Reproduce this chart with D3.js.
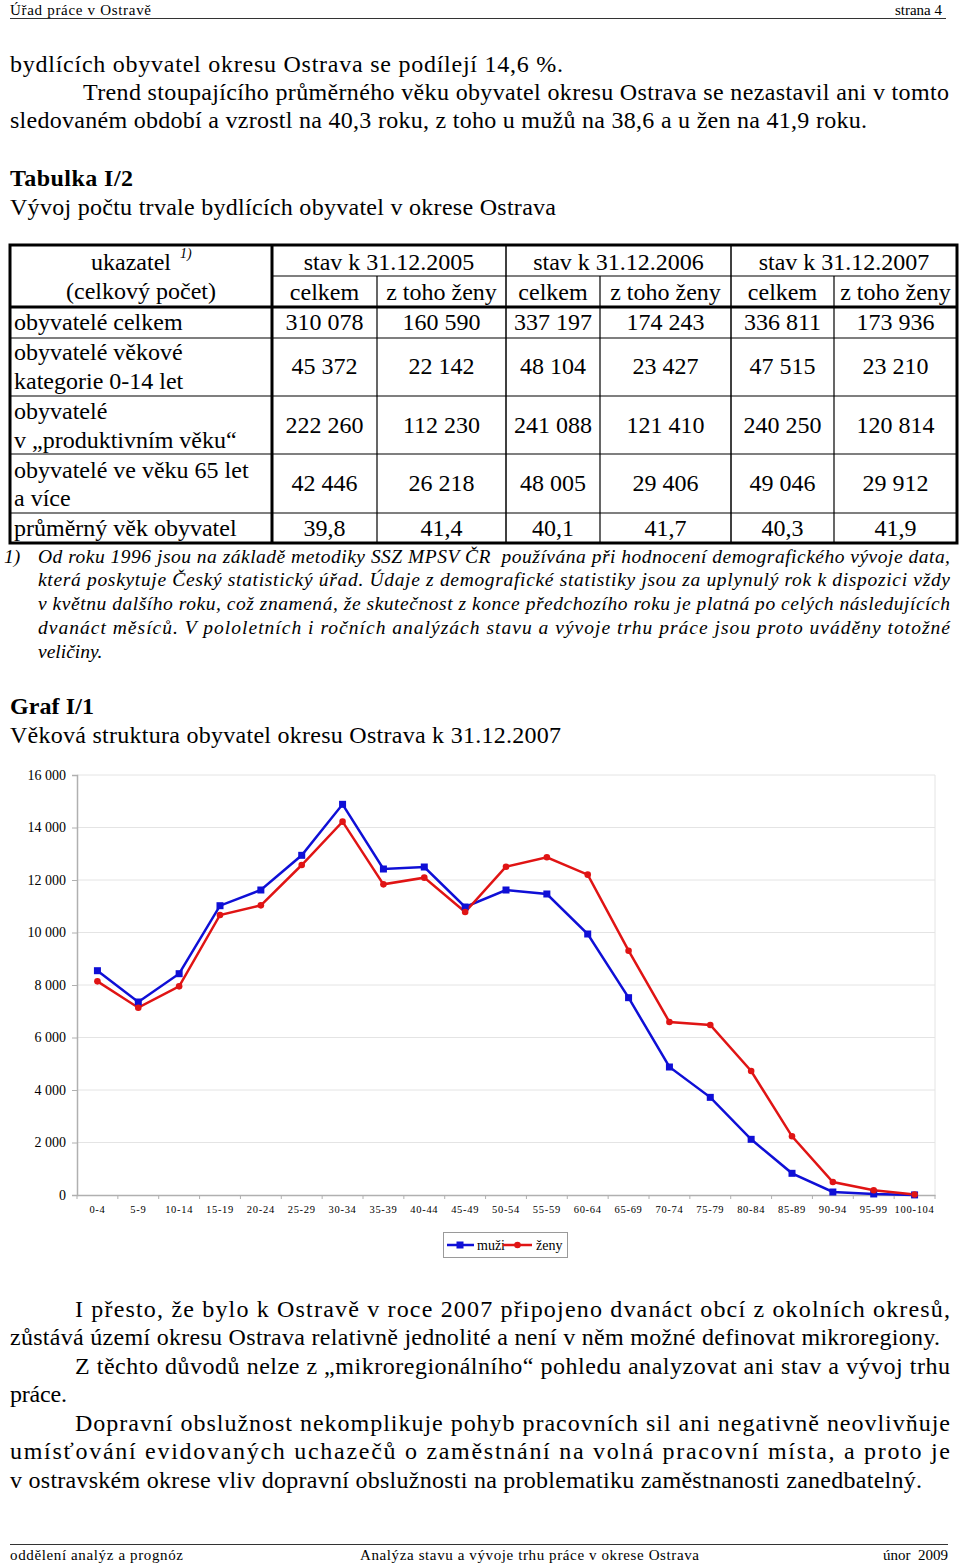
<!DOCTYPE html>
<html><head><meta charset="utf-8">
<script src="https://cdn.jsdelivr.net/npm/d3@7"></script>
<style>
html,body{margin:0;padding:0;background:#fff;}
svg{display:block;}
text{font-family:"Liberation Serif","Times New Roman",serif;fill:#000;white-space:pre;}
</style></head>
<body>
<svg id="page" width="960" height="1564"></svg>
<script>
// ---------- chart data ----------
const ageGroups = ["0-4","5-9","10-14","15-19","20-24","25-29","30-34","35-39","40-44","45-49","50-54","55-59","60-64","65-69","70-74","75-79","80-84","85-89","90-94","95-99","100-104"];
const muzi = [8545,7352,8431,11021,11619,12940,14883,12419,12495,10971,11619,11467,9943,7517,4876,3720,2121,826,114,40,3];
const zeny = [8140,7136,7949,10667,11035,12571,14222,11835,12089,10781,12507,12865,12203,9307,6590,6476,4724,2236,495,179,20];
const yTicks = [0,2000,4000,6000,8000,10000,12000,14000,16000];
const seriesNames = ["muži","ženy"];

// ---------- table data ----------
const tableYears = ["stav k 31.12.2005","stav k 31.12.2006","stav k 31.12.2007"];
const tableSub = ["celkem","z toho ženy"];
const rowLabels = [["obyvatelé celkem"],["obyvatelé věkové","kategorie 0-14 let"],["obyvatelé","v „produktivním věku“"],["obyvatelé ve věku 65 let","a více"],["průměrný věk obyvatel"]];
const rowValues = [
  ["310 078","160 590","337 197","174 243","336 811","173 936"],
  ["45 372","22 142","48 104","23 427","47 515","23 210"],
  ["222 260","112 230","241 088","121 410","240 250","120 814"],
  ["42 446","26 218","48 005","29 406","49 046","29 912"],
  ["39,8","41,4","40,1","41,7","40,3","41,9"]
];

const svg = d3.select("#page");
svg.append("rect").attr("width",960).attr("height",1564).attr("fill","#fff");

function txt(x, y, s, o={}) {
  const t = svg.append("text").attr("x",x).attr("y",y).text(s)
    .style("font-size",(o.size||24)+"px");
  if (o.weight) t.style("font-weight",o.weight);
  if (o.italic) t.style("font-style","italic");
  if (o.anchor) t.attr("text-anchor",o.anchor);
  if (o.tl) t.attr("textLength",o.tl).attr("lengthAdjust","spacing");
  return t;
}

// ---------- header ----------
txt(10,15,"Úřad práce v Ostravě",{size:15,tl:141});
txt(942,15,"strana 4",{size:15,anchor:"end"});
svg.append("line").attr("x1",10).attr("x2",946).attr("y1",18.5).attr("y2",18.5).attr("stroke","#333").attr("stroke-width",1.2);

// ---------- body text ----------
txt(10,72,"bydlících obyvatel okresu Ostrava se podílejí 14,6 %.",{tl:553});
txt(83,100,"Trend stoupajícího průměrného věku obyvatel okresu Ostrava se nezastavil ani v tomto",{tl:866});
txt(10,128,"sledovaném období a vzrostl na 40,3 roku, z toho u mužů na 38,6 a u žen na 41,9 roku.",{tl:857});
txt(10,186,"Tabulka I/2",{weight:"bold",tl:123});
txt(10,215,"Vývoj počtu trvale bydlících obyvatel v okrese Ostrava",{tl:546});

// ---------- table ----------
const colX = [10,272,377,506,600,731,834,957];
const rowY = [245,276,307,338,396,454,513,543];
const tg = svg.append("g");
tg.append("line").attr("x1",colX[1]).attr("x2",colX[7]).attr("y1",rowY[1]).attr("y2",rowY[1]).attr("stroke","#000").attr("stroke-width",1.2);
[3,4,5,6].forEach(i=>tg.append("line").attr("x1",colX[0]).attr("x2",colX[7]).attr("y1",rowY[i]).attr("y2",rowY[i]).attr("stroke","#000").attr("stroke-width",1.2));
[2,4,6].forEach(i=>tg.append("line").attr("x1",colX[i]).attr("x2",colX[i]).attr("y1",rowY[1]).attr("y2",rowY[7]).attr("stroke","#000").attr("stroke-width",1.2));
[3,5].forEach(i=>tg.append("line").attr("x1",colX[i]).attr("x2",colX[i]).attr("y1",rowY[0]).attr("y2",rowY[7]).attr("stroke","#000").attr("stroke-width",1.5));
tg.append("line").attr("x1",colX[0]).attr("x2",colX[7]).attr("y1",rowY[2]).attr("y2",rowY[2]).attr("stroke","#000").attr("stroke-width",3);
tg.append("line").attr("x1",colX[1]).attr("x2",colX[1]).attr("y1",rowY[0]).attr("y2",rowY[7]).attr("stroke","#000").attr("stroke-width",3);
tg.append("rect").attr("x",colX[0]).attr("y",rowY[0]).attr("width",colX[7]-colX[0]).attr("height",rowY[7]-rowY[0]).attr("fill","none").attr("stroke","#000").attr("stroke-width",3);

txt(131,270,"ukazatel",{anchor:"middle"});
txt(180,258,"1)",{size:14,italic:true});
txt(141,299,"(celkový počet)",{anchor:"middle"});
tableYears.forEach((s,i)=>txt((colX[1+2*i]+colX[3+2*i])/2,270,s,{anchor:"middle"}));
for (let i=0;i<6;i++) txt((colX[1+i]+colX[2+i])/2,300,tableSub[i%2],{anchor:"middle"});
const labelBase = [[330],[360,389],[419,448],[478,506],[536]];
const numBase = [330,374,433,491,536];
rowLabels.forEach((ls,r)=>{
  ls.forEach((l,k)=>txt(14,labelBase[r][k],l));
  rowValues[r].forEach((v,c)=>txt((colX[1+c]+colX[2+c])/2,numBase[r],v,{anchor:"middle"}));
});

// ---------- footnote ----------
const fs = 19.5;
txt(4,563,"1)",{size:fs,italic:true});
txt(38,563,"Od roku 1996 jsou na základě metodiky SSZ MPSV ČR  používána při hodnocení demografického vývoje data,",{size:fs,italic:true,tl:912});
txt(38,586,"která poskytuje Český statistický úřad. Údaje z demografické statistiky jsou za uplynulý rok k dispozici vždy",{size:fs,italic:true,tl:912});
txt(38,610,"v květnu dalšího roku, což znamená, že skutečnost z konce předchozího roku je platná po celých následujících",{size:fs,italic:true,tl:912});
txt(38,634,"dvanáct měsíců. V pololetních i ročních analýzách stavu a vývoje trhu práce jsou proto uváděny totožné",{size:fs,italic:true,tl:912});
txt(38,658,"veličiny.",{size:fs,italic:true});

// ---------- chart titles ----------
txt(10,714,"Graf I/1",{weight:"bold",tl:84});
txt(10,743,"Věková struktura obyvatel okresu Ostrava k 31.12.2007",{tl:551});

// ---------- chart ----------
const L=77, R=935, T=775, B=1195;
const x = d3.scaleBand().domain(ageGroups).range([L,R]);
const y = d3.scaleLinear().domain([0,16000]).range([B,T]);
const loc = d3.formatLocale({decimal:",",thousands:" ",grouping:[3],currency:["",""]});
const fmt = loc.format(",d");
const cg = svg.append("g");

cg.append("g").selectAll("line").data(yTicks.filter(d=>d>0)).join("line")
  .attr("x1",L).attr("x2",R).attr("y1",d=>y(d)).attr("y2",d=>y(d))
  .attr("stroke","#e4e4e4").attr("stroke-width",1);
cg.append("line").attr("x1",R).attr("x2",R).attr("y1",T).attr("y2",B).attr("stroke","#e4e4e4");

const ya = cg.append("g").attr("transform",`translate(${L},0)`)
  .call(d3.axisLeft(y).tickValues(yTicks).tickFormat(fmt).tickSize(5).tickPadding(6));
ya.select(".domain").attr("stroke","#b0b0b0").attr("stroke-width",1.5);
ya.selectAll(".tick line").attr("stroke","#b0b0b0");
ya.selectAll(".tick text").style("font-family","'Liberation Serif',serif").style("font-size","14px").attr("fill","#111");

const xa = cg.append("g").attr("transform",`translate(0,${B})`)
  .call(d3.axisBottom(x).tickSize(0).tickPadding(11));
xa.select(".domain").attr("stroke","#b0b0b0").attr("stroke-width",1.5);
xa.selectAll(".tick text").style("font-family","'Liberation Serif',serif").style("font-size","10.5px").style("letter-spacing","0.7px").attr("fill","#111");
cg.append("g").selectAll("line").data(d3.range(ageGroups.length+1)).join("line")
  .attr("x1",i=>L+i*x.step()).attr("x2",i=>L+i*x.step()).attr("y1",B).attr("y2",B+4)
  .attr("stroke","#b0b0b0");

const blue="#0f0fd6", red="#e01414";
const line = d3.line().x((d,i)=>x(ageGroups[i])+x.bandwidth()/2).y(d=>y(d));
cg.append("path").datum(muzi).attr("d",line).attr("fill","none").attr("stroke",blue).attr("stroke-width",2.5);
cg.append("path").datum(zeny).attr("d",line).attr("fill","none").attr("stroke",red).attr("stroke-width",2.5);
cg.append("g").selectAll("rect").data(muzi).join("rect")
  .attr("x",(d,i)=>x(ageGroups[i])+x.bandwidth()/2-3.5).attr("y",d=>y(d)-3.5)
  .attr("width",7).attr("height",7).attr("fill",blue);
cg.append("g").selectAll("circle").data(zeny).join("circle")
  .attr("cx",(d,i)=>x(ageGroups[i])+x.bandwidth()/2).attr("cy",d=>y(d)).attr("r",3.3).attr("fill",red);

// legend
const lg = svg.append("g");
lg.append("rect").attr("x",443.5).attr("y",1232.5).attr("width",124).attr("height",25).attr("fill","#fff").attr("stroke","#9a9a9a");
lg.append("line").attr("x1",447).attr("x2",474).attr("y1",1245).attr("y2",1245).attr("stroke",blue).attr("stroke-width",2.5);
lg.append("rect").attr("x",456.5).attr("y",1241.5).attr("width",7).attr("height",7).attr("fill",blue);
lg.append("text").attr("x",477).attr("y",1250).text(seriesNames[0]).style("font-size","14px");
lg.append("line").attr("x1",503).attr("x2",532).attr("y1",1245).attr("y2",1245).attr("stroke",red).attr("stroke-width",2.5);
lg.append("circle").attr("cx",517.5).attr("cy",1245).attr("r",3.3).attr("fill",red);
lg.append("text").attr("x",536).attr("y",1250).text(seriesNames[1]).style("font-size","14px");

// ---------- bottom text ----------
txt(75,1317,"I přesto, že bylo k Ostravě v roce 2007 připojeno dvanáct obcí z okolních okresů,",{tl:875});
txt(10,1345,"zůstává území okresu Ostrava relativně jednolité a není v něm možné definovat mikroregiony.",{tl:930});
txt(75,1374,"Z těchto důvodů nelze z „mikroregionálního“ pohledu analyzovat ani stav a vývoj trhu",{tl:875});
txt(10,1402,"práce.",{tl:57});
txt(75,1431,"Dopravní obslužnost nekomplikuje pohyb pracovních sil ani negativně neovlivňuje",{tl:875});
txt(10,1459,"umísťování evidovaných uchazečů o zaměstnání na volná pracovní místa, a proto je",{tl:940});
txt(10,1488,"v ostravském okrese vliv dopravní obslužnosti na problematiku zaměstnanosti zanedbatelný.",{tl:912});

// ---------- footer ----------
svg.append("line").attr("x1",10).attr("x2",948).attr("y1",1544.5).attr("y2",1544.5).attr("stroke","#333").attr("stroke-width",1.2);
txt(10,1560,"oddělení analýz a prognóz",{size:15,tl:173});
txt(360,1560,"Analýza stavu a vývoje trhu práce v okrese Ostrava",{size:15,tl:339});
txt(948,1560,"únor  2009",{size:15,anchor:"end"});
</script>
</body></html>
